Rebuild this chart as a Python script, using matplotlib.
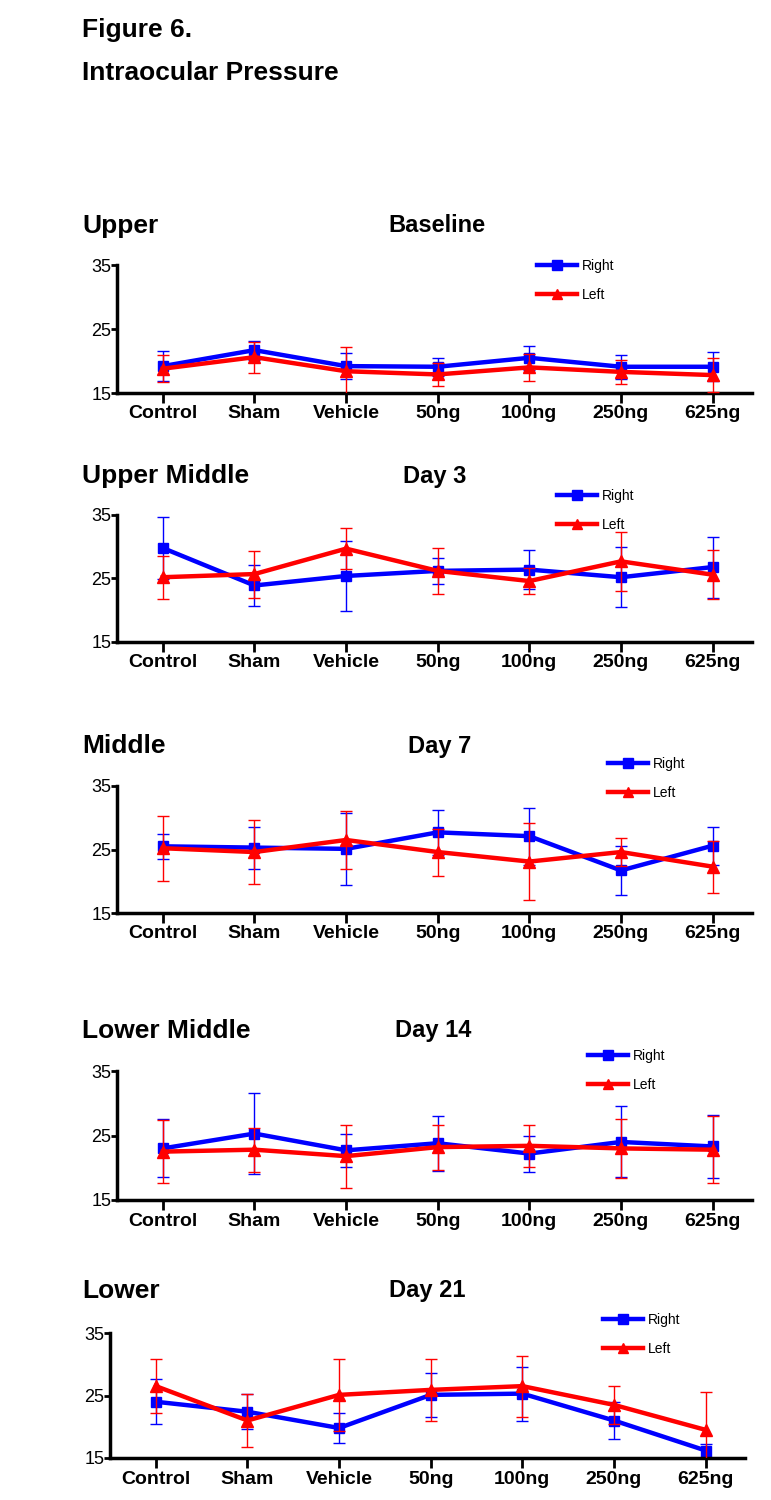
import matplotlib
matplotlib.use("Agg")
import matplotlib.pyplot as plt

plt.rcParams['font.family'] = ['Liberation Sans', 'DejaVu Sans']

# categories on the x axis
groups = ['Control', 'Sham', 'Vehicle', '50ng', '100ng', '250ng', '625ng']

# panel labels
row_names = ['Upper', 'Upper Middle', 'Middle', 'Lower Middle', 'Lower']
day_names = ['Baseline', 'Day 3', 'Day 7', 'Day 14', 'Day 21']

# mean IOP, right eye
right_baseline = [19.2, 21.7, 19.2, 19.1, 20.5, 19.1, 19.1]
right_day3 = [29.8, 23.9, 25.4, 26.2, 26.4, 25.2, 26.8]
right_day7 = [25.5, 25.3, 25.1, 27.7, 27.1, 21.7, 25.6]
right_day14 = [23.0, 25.3, 22.7, 23.8, 22.2, 24.0, 23.3]
right_day21 = [24.0, 22.4, 19.8, 25.1, 25.3, 21.0, 16.2]

# error (SD), right eye
right_err_baseline = [2.4, 1.5, 2.0, 1.4, 1.9, 1.9, 2.3]
right_err_day3 = [4.9, 3.3, 5.5, 2.0, 3.1, 4.7, 4.8]
right_err_day7 = [2.0, 3.3, 5.7, 3.5, 4.5, 3.8, 3.0]
right_err_day14 = [4.5, 6.3, 2.6, 4.3, 2.8, 5.5, 4.9]
right_err_day21 = [3.6, 2.8, 2.4, 3.5, 4.3, 2.9, 1.1]

# mean IOP, left eye
left_baseline = [18.8, 20.6, 18.4, 17.9, 19.0, 18.3, 17.8]
left_day3 = [25.2, 25.7, 29.7, 26.2, 24.6, 27.7, 25.6]
left_day7 = [25.2, 24.6, 26.5, 24.6, 23.1, 24.6, 22.3]
left_day14 = [22.5, 22.8, 21.8, 23.2, 23.4, 23.0, 22.8]
left_day21 = [26.5, 21.0, 25.1, 25.9, 26.5, 23.5, 19.5]

# error (SD), left eye
left_err_baseline = [2.1, 2.4, 3.8, 1.8, 2.1, 1.9, 2.6]
left_err_day3 = [3.4, 3.7, 3.2, 3.6, 2.0, 4.6, 3.9]
left_err_day7 = [5.1, 5.1, 4.5, 3.7, 6.1, 2.2, 4.1]
left_err_day14 = [4.9, 3.4, 4.9, 3.5, 3.3, 4.6, 5.2]
left_err_day21 = [4.3, 4.3, 5.8, 4.9, 4.9, 3.1, 6.0]

right_all = [right_baseline, right_day3, right_day7, right_day14, right_day21]
right_err_all = [right_err_baseline, right_err_day3, right_err_day7, right_err_day14, right_err_day21]
left_all = [left_baseline, left_day3, left_day7, left_day14, left_day21]
left_err_all = [left_err_baseline, left_err_day3, left_err_day7, left_err_day14, left_err_day21]

W, H = 771, 1500
fig = plt.figure(figsize=(W / 100, H / 100), dpi=100)

# layout in pixels: (axis left, axis right, axis top, axis bottom)
boxes = [(117, 752, 265, 393), (117, 752, 515, 642), (117, 752, 786, 913),
         (117, 752, 1071, 1200), (110, 745, 1333, 1458)]
# row label / day label y and day label x
label_y = [226, 476, 746, 1031, 1291]
day_x = [437, 435, 440, 433, 427]
# legend position (handle start x, first row y)
legend_pos = [(537, 268), (557, 498), (608, 766), (588, 1058), (603, 1322)]

fig.text(82 / W, 1 - 30 / H, 'Figure 6.', fontsize=19, fontweight='bold', va='center')
fig.text(82 / W, 1 - 73 / H, 'Intraocular Pressure', fontsize=19, fontweight='bold', va='center')

x = list(range(len(groups)))

for i in range(5):
    l, r, t, b = boxes[i]
    ax = fig.add_axes([l / W, 1 - b / H, (r - l) / W, (b - t) / H])

    eb_r = ax.errorbar(x, right_all[i], yerr=right_err_all[i], color='#0000ff', lw=3.2,
                       marker='s', ms=7.5, elinewidth=1, capsize=4.5, capthick=1,
                       zorder=2)
    eb_l = ax.errorbar(x, left_all[i], yerr=left_err_all[i], color='#ff0000', lw=3.2,
                       marker='^', ms=8, elinewidth=1, capsize=4.5, capthick=1,
                       zorder=3)

    ax.set_ylim(15, 35)
    ax.set_yticks([15, 25, 35])
    ax.set_xlim(-0.5, 6.43)
    ax.set_xticks(x)
    ax.set_xticklabels(groups, fontsize=14, fontweight='bold')
    for lab in ax.get_yticklabels():
        lab.set_fontsize(13)
    ax.spines['top'].set_visible(False)
    ax.spines['right'].set_visible(False)
    ax.spines['left'].set_linewidth(2.5)
    ax.spines['bottom'].set_linewidth(2.5)
    ax.tick_params(axis='x', length=7, width=2, pad=2)
    ax.tick_params(axis='y', length=4, width=2, pad=0)
    ax.patch.set_alpha(0)

    fig.text(82 / W, 1 - label_y[i] / H, row_names[i], fontsize=19,
             fontweight='bold', va='center')
    fig.text(day_x[i] / W, 1 - label_y[i] / H, day_names[i], fontsize=17,
             fontweight='bold', va='center', ha='center')

    lx, ly = legend_pos[i]
    ax.legend([eb_r[0], eb_l[0]], ['Right', 'Left'], loc='upper left',
              bbox_to_anchor=(lx / W, 1 - (ly - 9) / H),
              bbox_transform=fig.transFigure, frameon=False, fontsize=10,
              handlelength=2.9, handletextpad=0.3, labelspacing=1.05,
              borderpad=0, borderaxespad=0, numpoints=1, markerscale=0.95)

fig.savefig('out.png', dpi=100, facecolor='white')
